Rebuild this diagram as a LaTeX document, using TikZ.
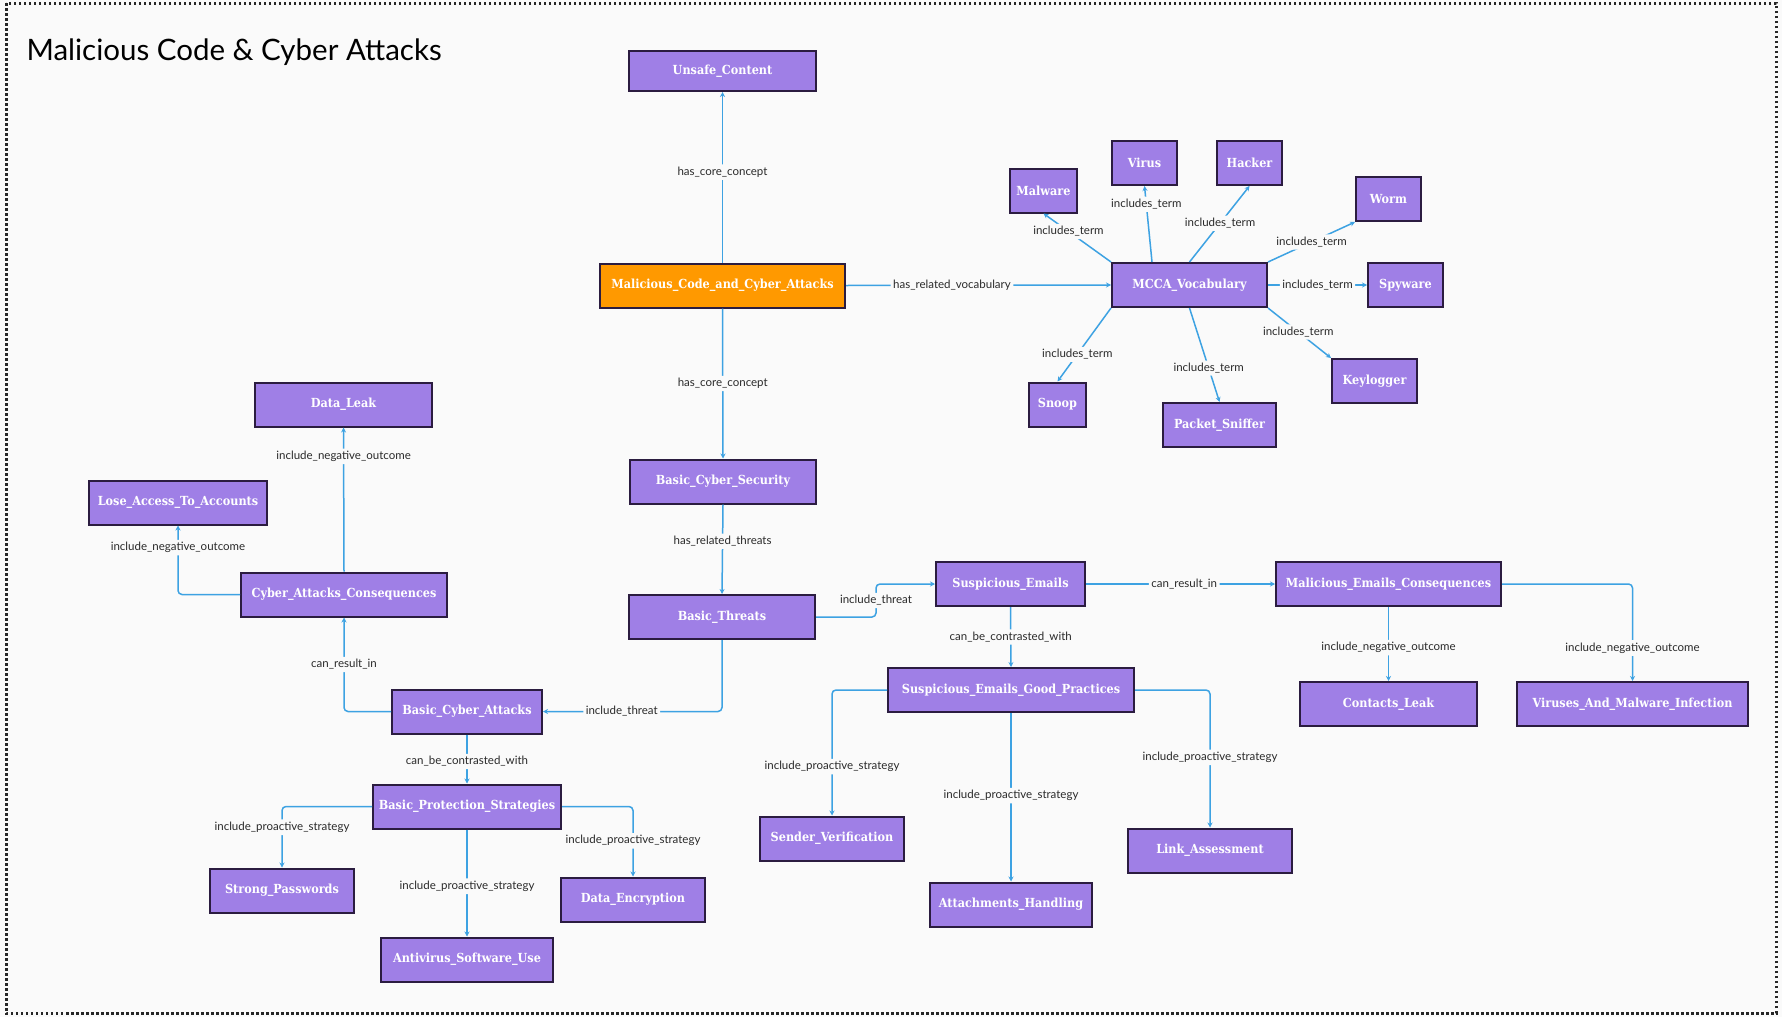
\documentclass[tikz,border=0pt]{standalone}
\usepackage{fontspec}
\setmainfont{Lato}
\newfontfamily\nodefont[FakeStretch=0.9]{DejaVu Serif}
\usetikzlibrary{arrows.meta,calc}
\definecolor{bgc}{HTML}{FAFAFA}
\definecolor{nodefill}{HTML}{9F7FE6}
\definecolor{nodeline}{HTML}{2B1C40}
\definecolor{orangefill}{HTML}{FF9900}
\definecolor{edgec}{HTML}{3DA2E2}
\definecolor{lblc}{HTML}{2A2A2A}
\tikzset{
  box/.style={rectangle, draw=nodeline, line width=2pt, fill=nodefill, minimum height=44pt,
    inner sep=0pt, text=white, font=\nodefont\bfseries\fontsize{12.5}{14}\selectfont},
  rootbox/.style={box, fill=orangefill},
  edge/.style={draw=edgec, line width=1.5pt, rounded corners=4pt, -{Stealth[length=5pt,width=5pt]}},
  lbl/.style={fill=bgc, text=lblc, inner sep=2.5pt, font=\fontsize{11.5}{13}\selectfont},
}
\begin{document}
\begin{tikzpicture}[x=1pt,y=-1pt]
\useasboundingbox (0,0) rectangle (1782,1017);
\fill[bgc] (0,0) rectangle (1782,1017);
\draw[draw=black!85, line width=3pt, dash pattern=on 2.5pt off 2.5pt] (6,3) rectangle (1776,1013);
\node[anchor=base west, font=\fontsize{29.5}{33}\selectfont, text=black] (title) at (23,60) {Malicious Code \& Cyber Attacks};

% nodes
\node[box, minimum width=187pt, minimum height=40pt] (unsafe) at (722.5,71) {Unsafe\_Content};
\node[rootbox, minimum width=245pt] (mcca) at (722.5,285.5) {Malicious\_Code\_and\_Cyber\_Attacks};
\node[box, minimum width=155pt] (voc) at (1189.5,285) {MCCA\_Vocabulary};
\node[box, minimum width=67pt] (malware) at (1043.5,190.5) {Malware};
\node[box, minimum width=65pt] (virus) at (1144.5,163) {Virus};
\node[box, minimum width=65pt] (hacker) at (1249.5,163) {Hacker};
\node[box, minimum width=65pt] (worm) at (1388.5,199) {Worm};
\node[box, minimum width=75pt] (spyware) at (1405.5,285) {Spyware};
\node[box, minimum width=85pt] (keylogger) at (1374.5,381) {Keylogger};
\node[box, minimum width=57pt] (snoop) at (1057.5,404.5) {Snoop};
\node[box, minimum width=113pt] (sniffer) at (1219.5,425) {Packet\_Sniffer};
\node[box, minimum width=177pt] (dataleak) at (343.5,404.5) {Data\_Leak};
\node[box, minimum width=178pt] (lose) at (178,502.5) {Lose\_Access\_To\_Accounts};
\node[box, minimum width=206pt] (cac) at (344,594.5) {Cyber\_Attacks\_Consequences};
\node[box, minimum width=186pt] (bcs) at (723,481.5) {Basic\_Cyber\_Security};
\node[box, minimum width=186pt] (threats) at (722,617) {Basic\_Threats};
\node[box, minimum width=150pt] (bca) at (467,711.5) {Basic\_Cyber\_Attacks};
\node[box, minimum width=188pt] (bps) at (467,806.5) {Basic\_Protection\_Strategies};
\node[box, minimum width=144pt] (strong) at (282,890.5) {Strong\_Passwords};
\node[box, minimum width=172pt] (antivirus) at (467,959.5) {Antivirus\_Software\_Use};
\node[box, minimum width=144pt] (dataenc) at (633,899.5) {Data\_Encryption};
\node[box, minimum width=149pt] (se) at (1010.5,584) {Suspicious\_Emails};
\node[box, minimum width=225pt] (mec) at (1388.5,584) {Malicious\_Emails\_Consequences};
\node[box, minimum width=246pt] (segp) at (1011,690) {Suspicious\_Emails\_Good\_Practices};
\node[box, minimum width=177pt] (contacts) at (1388.5,704) {Contacts\_Leak};
\node[box, minimum width=231pt] (viruses) at (1632.5,704) {Viruses\_And\_Malware\_Infection};
\node[box, minimum width=144pt] (sender) at (832,838.5) {Sender\_Verification};
\node[box, minimum width=162pt] (attach) at (1011,904.5) {Attachments\_Handling};
\node[box, minimum width=164pt] (link) at (1210,850.5) {Link\_Assessment};

% edges
\draw[edge] (mcca.north) -- node[lbl, pos=0.53] {has\_core\_concept} (unsafe.south);
\draw[edge] (mcca.south) -- node[lbl, pos=0.5] {has\_core\_concept} (bcs.north);
\draw[edge] (mcca.east) -- node[lbl, pos=0.4] {has\_related\_vocabulary} (voc.west);
\draw[edge] (bcs.south) -- node[lbl, pos=0.41] {has\_related\_threats} (threats.north);
\draw[edge] (threats.east) -- ++(60,0) |- node[lbl, pos=0.25] {include\_threat} (se.west);
\draw[edge] (threats.south) |- node[lbl, pos=0.78] {include\_threat} (bca.east);
\draw[edge] (bca.west) -| node[lbl, pos=0.75] {can\_result\_in} (cac.south);
\draw[edge] (cac.north) -- node[lbl, pos=0.8] {include\_negative\_outcome} (dataleak.south);
\draw[edge] (cac.west) -| node[lbl, pos=0.84] {include\_negative\_outcome} (lose.south);
\draw[edge] (bca.south) -- node[lbl, pos=0.55] {can\_be\_contrasted\_with} (bps.north);
\draw[edge] (bps.west) -| node[lbl, pos=0.67] {include\_proactive\_strategy} (strong.north);
\draw[edge] (bps.south) -- node[lbl, pos=0.53] {include\_proactive\_strategy} (antivirus.north);
\draw[edge] (bps.east) -| node[lbl, pos=0.745] {include\_proactive\_strategy} (dataenc.north);
\draw[edge] (se.east) -- node[lbl, pos=0.52] {can\_result\_in} (mec.west);
\draw[edge] (se.south) -- node[lbl, pos=0.5] {can\_be\_contrasted\_with} (segp.north);
\draw[edge] (segp.west) -| node[lbl, pos=0.805] {include\_proactive\_strategy} (sender.north);
\draw[edge] (segp.south) -- node[lbl, pos=0.49] {include\_proactive\_strategy} (attach.north);
\draw[edge] (segp.east) -| node[lbl, pos=0.745] {include\_proactive\_strategy} (link.north);
\draw[edge] (mec.south) -- node[lbl, pos=0.55] {include\_negative\_outcome} (contacts.north);
\draw[edge] (mec.east) -| node[lbl, pos=0.83] {include\_negative\_outcome} (viruses.north);

\draw[edge] (voc.north west) -- node[lbl, pos=0.63] {includes\_term} (malware.south);
\draw[edge] ([xshift=-37.5pt]voc.north) -- node[lbl, pos=0.76] {includes\_term} (virus.south);
\draw[edge] (voc.north) -- node[lbl, pos=0.51] {includes\_term} (hacker.south);
\draw[edge] (voc.north east) -- node[lbl, pos=0.5] {includes\_term} (worm.south west);
\draw[edge] (voc.east) -- node[lbl, pos=0.5] {includes\_term} (spyware.west);
\draw[edge] (voc.south east) -- node[lbl, pos=0.48] {includes\_term} (keylogger.north west);
\draw[edge] (voc.south) -- node[lbl, pos=0.64] {includes\_term} (sniffer.north);
\draw[edge] (voc.south west) -- node[lbl, pos=0.63] {includes\_term} (snoop.north);
\end{tikzpicture}
\end{document}
